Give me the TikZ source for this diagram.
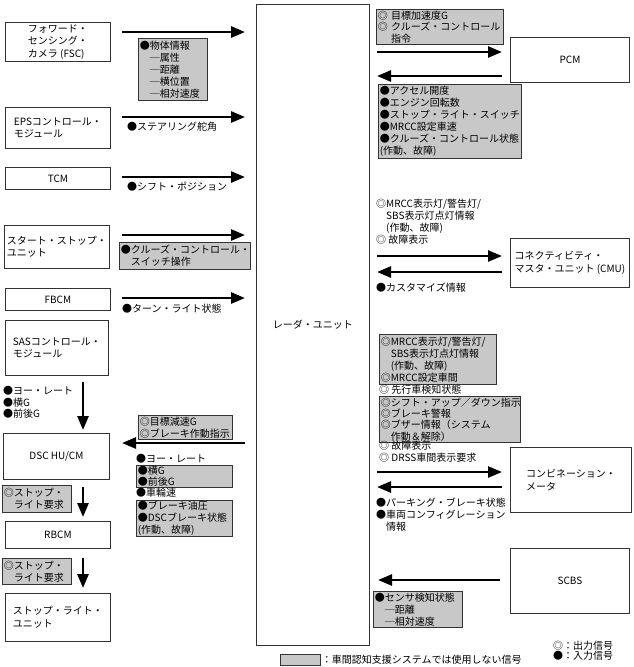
\documentclass[tikz,border=0pt]{standalone}
\usepackage{fontspec}
\setmainfont{Noto Sans CJK JP}
\usetikzlibrary{arrows.meta, positioning}
\definecolor{sigfill}{HTML}{C8C8C8}
\definecolor{edge}{HTML}{333333}

\begin{document}
\begin{tikzpicture}[
    x=1pt, y=-1pt,
    font=\fontsize{10}{12}\selectfont,
    unit/.style={draw=edge, line width=0.9pt, fill=white, anchor=north west, align=left, inner sep=0pt, font=\fontsize{10}{12.5}\selectfont},
    sigbox/.style={draw=edge, line width=0.7pt, fill=sigfill, anchor=north west, align=left, inner xsep=1.5pt, inner ysep=0pt},
    lbl/.style={anchor=north west, align=left, inner sep=0pt},
    flow/.style={line width=2.6pt, -{Triangle[length=14pt, width=11pt]}}
  ]

    \useasboundingbox (0,0) rectangle (634,667);

    % Radar unit
    \node[unit, minimum width=113, minimum height=641, align=center] (radar) at (256,4) {レーダ・ユニット};

    % Left modules
    \node[unit, minimum width=105, minimum height=39] (fsc) at (5,22) {フォワード・\\センシング・\\カメラ (FSC)};
    \node[unit, minimum width=105, minimum height=41] (eps) at (5,107) {EPSコントロール・\\モジュール};
    \node[unit, minimum width=105, minimum height=22] (tcm) at (5,167) {TCM};
    \node[unit, minimum width=105, minimum height=43] (ssu) at (4,225) {スタート・ストップ・\\ユニット};
    \node[unit, minimum width=105, minimum height=22] (fbcm) at (5,288) {FBCM};
    \node[unit, minimum width=103, minimum height=55] (sas) at (5,320) {SASコントロール・\\モジュール};
    \node[unit, minimum width=106, minimum height=46] (dsc) at (3,433) {DSC HU/CM};
    \node[unit, minimum width=105, minimum height=27] (rbcm) at (5,521) {RBCM};
    \node[unit, minimum width=105, minimum height=48] (slu) at (5,593) {ストップ・ライト・\\ユニット};

    % Right modules
    \node[unit, minimum width=119, minimum height=45] (pcm) at (510,37) {PCM};
    \node[unit, minimum width=119, minimum height=49] (cmu) at (510,238) {コネクティビティ・\\マスタ・ユニット (CMU)};
    \node[unit, minimum width=121, minimum height=65] (meter) at (510,447) {コンビネーション・\\メータ};
    \node[unit, minimum width=119, minimum height=65] (scbs) at (510,548) {SCBS};

    % Signal arrows
    \foreach \n/\y in {fsc/32, eps/117, tcm/177, ssu/235, fbcm/298} {
      \coordinate (\n-a) at (122,\y);
      \coordinate (\n-b) at (245,\y);
      \draw[flow] (\n-a) -- (\n-b);
    }
    \foreach \n/\ya/\yb in {sas/382/430, dsc/487/517, rbcm/558/588} {
      \coordinate (\n-a) at (83,\ya);
      \coordinate (\n-b) at (83,\yb);
      \draw[flow] (\n-a) -- (\n-b);
    }
    \coordinate (dscin-a) at (245,443);
    \coordinate (dscin-b) at (122,443);
    \draw[flow] (dscin-a) -- (dscin-b);
    \foreach \n/\yo/\yi in {pcm/52/76, cmu/256/272, meter/472/487} {
      \coordinate (\n-o) at (377,\yo);
      \coordinate (\n-p) at (502,\yo);
      \coordinate (\n-i) at (502,\yi);
      \coordinate (\n-j) at (377,\yi);
      \draw[flow] (\n-o) -- (\n-p);
      \draw[flow] (\n-i) -- (\n-j);
    }
    \coordinate (scbs-i) at (500,580);
    \coordinate (scbs-j) at (378,580);
    \draw[flow] (scbs-i) -- (scbs-j);

    % Left signal labels
    \node[sigbox, text width=66, minimum height=62] (fscsig) at (138,38) {●物体情報\\\phantom{●}─属性\\\phantom{●}─距離\\\phantom{●}─横位置\\\phantom{●}─相対速度};
    \node[lbl] (epssig) at (127,122) {●ステアリング舵角};
    \node[lbl] (tcmsig) at (127,182) {●シフト・ポジション};
    \node[sigbox, text width=128, minimum height=27] (ssusig) at (119,242) {●クルーズ・コントロール・\\\phantom{●}スイッチ操作};
    \node[lbl] (fbcmsig) at (122,304) {●ターン・ライト状態};
    \node[lbl, font=\fontsize{10}{11.5}\selectfont] (sassig) at (3,386) {●ヨー・レート\\●横G\\●前後G};
    \node[sigbox, text width=91, minimum height=24] (dscout) at (138,415) {◎目標減速G\\◎ブレーキ作動指示};
    \node[lbl] (dscyaw) at (136,454) {●ヨー・レート};
    \node[sigbox, text width=93, minimum height=22, font=\fontsize{10}{11}\selectfont] (dscg) at (136,465) {●横G\\●前後G};
    \node[lbl] (dscwheel) at (136,488) {●車輪速};
    \node[sigbox, text width=93, minimum height=36] (dscbrk) at (136,500) {●ブレーキ油圧\\●DSCブレーキ状態\\(作動、故障)};
    \node[sigbox, text width=66, minimum height=27] (dscstop) at (2,485) {◎ストップ・\\\phantom{◎}ライト要求};
    \node[sigbox, text width=66, minimum height=26] (rbcmstop) at (2,558) {◎ストップ・\\\phantom{◎}ライト要求};

    % Right signal labels
    \node[sigbox, text width=124, minimum height=35, font=\fontsize{10}{11.5}\selectfont] (pcmout) at (376,9) {◎ 目標加速度G\\◎ クルーズ・コントロール\\\phantom{◎ }指令};
    \node[sigbox, text width=140, minimum height=74] (pcmin) at (378,84) {●アクセル開度\\●エンジン回転数\\●ストップ・ライト・スイッチ\\●MRCC設定車速\\●クルーズ・コントロール状態\\(作動、故障)};
    \node[lbl] (cmuout) at (376,199) {◎MRCC表示灯/警告灯/\\\phantom{◎}SBS表示灯点灯情報\\\phantom{◎}(作動、故障)\\◎ 故障表示};
    \node[lbl] (cmuin) at (376,283) {●カスタマイズ情報};
    \node[sigbox, text width=114, minimum height=50] (meterout1) at (379,334) {◎MRCC表示灯/警告灯/\\\phantom{◎}SBS表示灯点灯情報\\\phantom{◎}(作動、故障)\\◎MRCC設定車間};
    \node[lbl] (meterout2) at (379,385) {◎ 先行車検知状態};
    \node[sigbox, text width=138, minimum height=46, font=\fontsize{10}{11.3}\selectfont] (meterout3) at (379,396) {◎シフト・アップ／ダウン指示\\◎ブレーキ警報\\◎ブザー情報（システム\\\phantom{◎}作動＆解除）};
    \node[lbl] (meterout4) at (379,441) {◎ 故障表示\\◎ DRSS車間表示要求};
    \node[lbl] (meterin) at (376,498) {●パーキング・ブレーキ状態\\●車両コンフィグレーション\\\phantom{●}情報};
    \node[sigbox, text width=86, minimum height=36] (scbsin) at (373,591) {●センサ検知状態\\\phantom{●}─距離\\\phantom{●}─相対速度};

    % Legend
    \node[sigbox, minimum width=40, minimum height=11, inner sep=0pt] (key) at (280,654) {};
    \node[lbl, anchor=west, right=1pt of key] (keytxt) {：車間認知支援システムでは使用しない信号};
    \node[lbl, font=\fontsize{10}{10}\selectfont] (keyio) at (553,641) {◎：出力信号\\●：入力信号};

  \end{tikzpicture}
\end{document}
